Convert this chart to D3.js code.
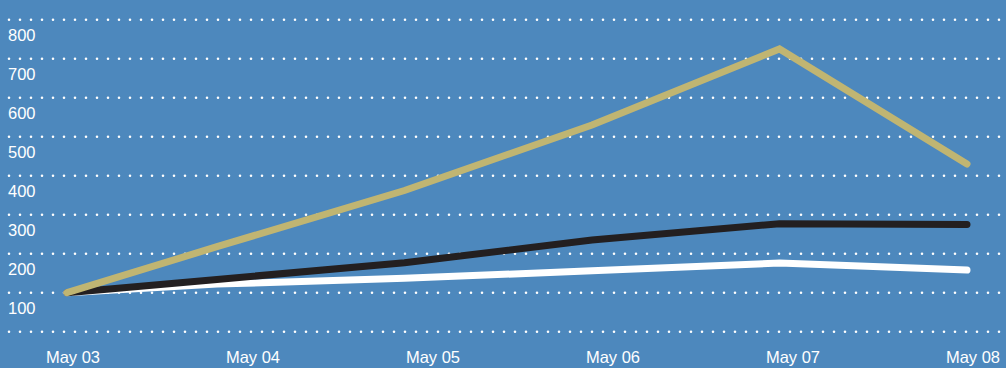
<!DOCTYPE html>
<html>
<head>
<meta charset="utf-8">
<script src="https://cdn.jsdelivr.net/npm/d3@7"></script>
<style>
  html, body { margin: 0; padding: 0; background: #4d88bd; }
  svg { display: block; }
  text { font-family: "Liberation Sans", Arial, Helvetica, sans-serif; }
</style>
</head>
<body>
<svg id="chart" width="1006" height="368"></svg>
<script>
// ---- data ----
const dates = ["2013-05-03 00:00", "2013-05-03 20:00", "2013-05-04 21:00", "2013-05-05 22:00", "2013-05-06 23:00", "2013-05-08 00:00"];
const goldValues  = [100, 218, 362, 530, 725, 430];
const blackValues = [100, 134, 177, 235, 277, 275];
const whiteValues = [100, 122, 137, 156, 176, 158];
const yTicks = [0, 100, 200, 300, 400, 500, 600, 700, 800];
const xTickDates = ["2013-05-03", "2013-05-04", "2013-05-05", "2013-05-06", "2013-05-07", "2013-05-08"];

const W = 1006, H = 368;
const svg = d3.select("#chart");
svg.append("rect").attr("width", W).attr("height", H).attr("fill", "#4d88bd");

const parseT = d3.timeParse("%Y-%m-%d %H:%M");
const parseD = d3.timeParse("%Y-%m-%d");
const fmt = d3.timeFormat("%b %d");

const x = d3.scaleTime()
  .domain([parseD("2013-05-03"), parseD("2013-05-08")])
  .range([67, 967]);
const y = d3.scaleLinear().domain([0, 800]).range([331.7, 19.7]);

// grid lines (dotted) + y labels
const grid = svg.append("g");
yTicks.forEach(v => {
  grid.append("line")
    .attr("x1", 9).attr("x2", 1000)
    .attr("y1", y(v)).attr("y2", y(v))
    .attr("stroke", "#ffffff")
    .attr("stroke-width", 2.6)
    .attr("stroke-linecap", "round")
    .attr("stroke-dasharray", "0,11");
  if (v > 0) {
    grid.append("text")
      .attr("x", 8).attr("y", y(v) + 21)
      .attr("fill", "#ffffff")
      .attr("font-size", 16.5)
      .text(v);
  }
});

// x labels
const xa = svg.append("g");
xTickDates.forEach(ds => {
  const d = parseD(ds);
  xa.append("text")
    .attr("x", x(d) + 6).attr("y", 363)
    .attr("text-anchor", "middle")
    .attr("fill", "#ffffff")
    .attr("font-size", 16.5)
    .text(fmt(d));
});

// lines
const line = d3.line()
  .x((d, i) => x(parseT(dates[i])))
  .y(d => y(d));

const series = [
  { vals: whiteValues, color: "#ffffff" },
  { vals: blackValues, color: "#231f20" },
  { vals: goldValues,  color: "#c0b572" }
];
series.forEach(s => {
  svg.append("path")
    .datum(s.vals)
    .attr("d", line)
    .attr("fill", "none")
    .attr("stroke", s.color)
    .attr("stroke-width", 7)
    .attr("stroke-linecap", "round")
    .attr("stroke-linejoin", "miter");
});
</script>
</body>
</html>
